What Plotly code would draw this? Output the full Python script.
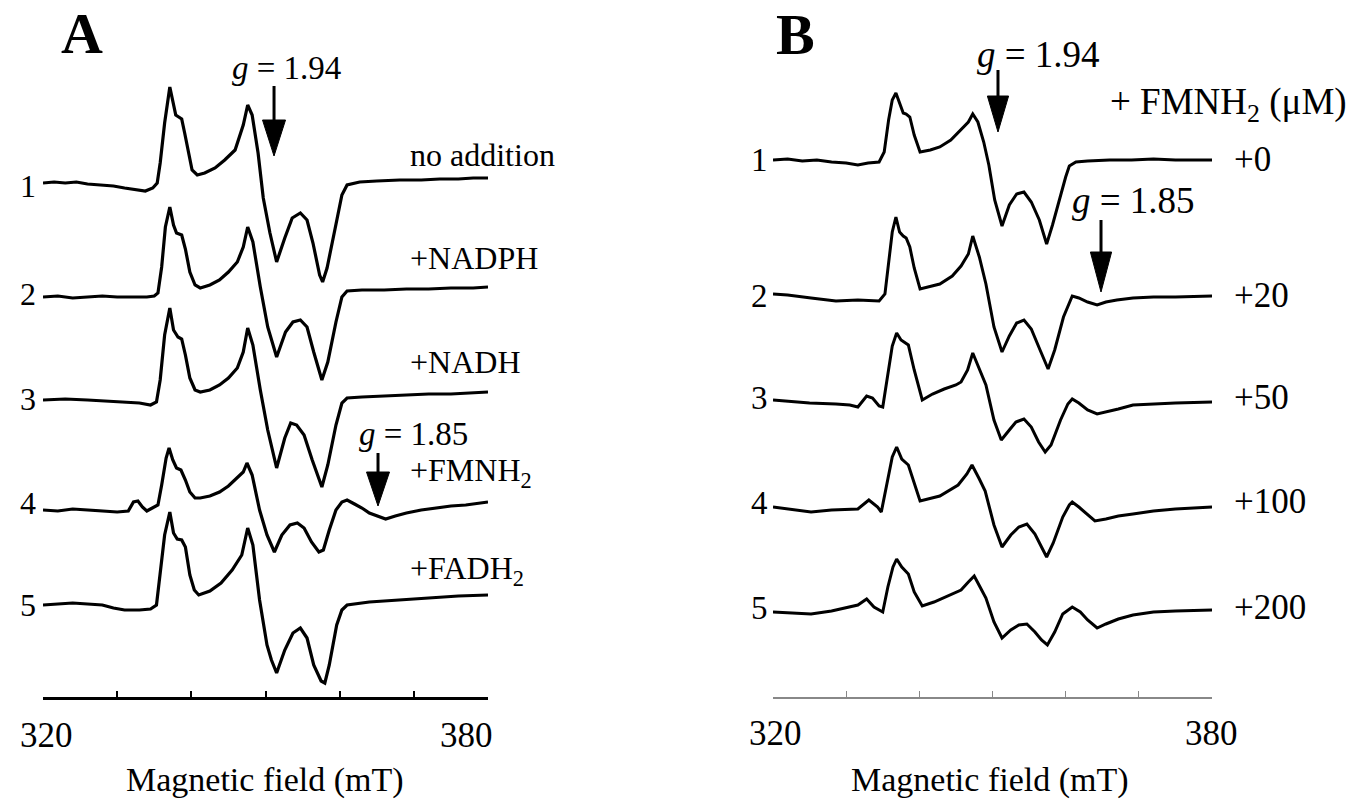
import plotly.graph_objects as go

# ---------------- data (field in mT, signal in arbitrary units) ----------------
A1_FIELD = [320.0,321.5,323.0,324.5,326.0,327.7,329.5,331.0,332.5,333.8,334.8,335.4,335.8,336.4,337.1,337.5,337.9,338.3,338.7,339.1,339.5,340.1,340.8,341.8,343.2,344.5,345.9,347.0,347.6,348.2,349.0,349.7,350.6,351.5,352.6,353.6,354.7,355.6,356.4,357.3,357.7,358.3,359.4,360.3,361.0,362.7,365.0,368.1,371.0,373.5,376.0,378.0,380.0]
A1_SIG = [0,1,0,1,-1,-2,-3,-5,-7,-8,-5,0,20,60,96,80,68,66,64,50,35,13,8,10,15,23,33,58,78,68,30,-15,-50,-79,-55,-35,-30,-37,-60,-92,-99,-85,-45,-12,-2,1,2,3,3,4,4,5,5]

A2_FIELD = [320,322,324,326,328,330,332,334,335.0,335.5,336.0,336.5,337.1,337.6,338.0,338.7,339.2,339.8,340.5,341.2,342.5,343.8,345.0,346.2,347.0,347.6,348.3,349.3,350.3,351.5,352.7,353.7,354.7,355.6,356.5,357.6,358.4,359.5,360.3,361.0,363,366,369,372,375,378,380]
A2_SIG = [0,1,-1,0,1,0,0,0,1,4,30,70,90,72,64,62,48,25,12,9,12,17,25,35,50,70,55,10,-30,-60,-35,-25,-23,-30,-55,-83,-65,-25,0,6,7,7,8,8,9,9,10]

A3_FIELD = [320,323,326,329,331,333,334.5,335.3,335.8,336.4,337.1,337.6,338.2,338.7,339.2,339.8,340.5,341.2,342.5,343.8,345.0,346.2,347.0,347.6,348.3,349.3,350.3,351.5,352.6,353.4,354.2,355.2,356.3,357.6,358.4,359.5,360.3,361.0,363,366,369,372,375,378,380]
A3_SIG = [0,1,0,-1,-2,-3,-5,-2,20,65,92,70,63,61,45,22,10,8,10,15,22,32,48,72,55,10,-30,-68,-38,-23,-25,-35,-60,-87,-65,-25,-3,2,3,4,5,6,6,7,8]

A4_FIELD = [320,322,324,326,328,330,331.5,332.2,332.8,333.4,334.0,334.8,335.5,336.0,336.6,337.0,337.5,338.0,338.6,339.2,339.8,340.5,341.2,342.5,343.8,345.0,346.2,347.0,347.5,348.2,349.2,350.2,351.2,352.2,353.3,354.3,355.2,356.2,357.2,357.8,358.6,359.5,360.3,361.0,362.0,363.0,364.0,365.0,366.2,367.5,369.0,371.0,373.0,375.0,377.0,380.0]
A4_SIG = [0,-1,1,0,-1,-2,-1,8,9,3,-1,2,5,25,52,62,50,42,40,30,18,12,12,14,18,24,32,38,47,35,0,-25,-42,-25,-15,-13,-18,-32,-42,-40,-20,0,8,10,6,2,-3,-6,-9,-6,-3,0,2,4,5,8]

A5_FIELD = [320,322,324,326,328,329.5,331.0,333.0,334.5,335.3,335.8,336.4,337.1,337.6,338.1,338.7,339.2,339.8,340.4,341.0,342.5,344.0,345.5,346.8,347.6,348.3,349.2,350.2,350.8,351.5,352.6,353.7,354.7,355.6,356.5,357.5,358.0,358.6,359.6,360.3,361.0,364,368,372,376,380]
A5_SIG = [0,1,2,1,0,-3,-5,-5,-4,0,30,70,93,72,66,65,58,30,15,10,14,22,35,50,77,60,5,-40,-55,-68,-45,-28,-23,-33,-60,-76,-78,-60,-20,-5,0,3,5,7,9,10]

B1_FIELD = [320,322,324,326,328,330,331.6,333,334.5,335.2,335.8,336.3,336.8,337.3,337.8,338.2,338.7,339.3,340.1,341.5,342.8,344.3,345.7,346.7,347.3,348.0,348.8,349.5,350.3,351.3,352.3,353.3,354.3,355.3,356.4,357.4,358.2,359.2,360.0,360.5,361.4,363,366,369,372,375,378,380]
B1_SIG = [0,1,-1,0,-2,-3,-5,-3,-2,8,40,60,67,56,47,46,43,25,8,10,13,20,30,38,46,38,18,-5,-40,-66,-45,-34,-32,-42,-60,-84,-65,-38,-17,-6,-2,-1,0,0,1,0,0,0]

B2_FIELD = [320,322,325.2,328.6,331.6,334.5,335.3,335.8,336.3,336.8,337.3,337.8,338.2,338.7,339.3,340.1,342.8,344.5,345.7,346.7,347.3,348.2,349.1,350.2,351.3,352.3,353.3,354.3,355.3,356.5,357.6,358.5,359.7,360.9,361.8,363.0,364.3,365.5,367.0,369.2,372,375,380]
B2_SIG = [0,-1,-4,-7,-6,-7,0,32,62,77,62,58,56,47,26,5,10,18,28,40,58,37,10,-33,-58,-42,-29,-26,-35,-56,-75,-56,-23,-2,-4,-8,-11,-8,-6,-4,-3,-3,-2]

B3_FIELD = [320,322,325,328.6,330.5,331.6,332.8,333.6,334.5,335.0,335.6,336.3,336.9,337.5,338.5,339.3,340.4,341.8,343.4,345.0,345.7,346.6,347.3,348.2,349.1,350.2,351.2,352.3,353.2,354.3,355.3,356.3,357.2,358.0,359.3,360.3,360.9,361.8,363.0,364.3,365.5,367.2,369.2,372,375,380]
B3_SIG = [0,-1,-3,-4,-5,-7,4,2,-6,-7,20,54,67,60,55,30,0,6,11,15,18,30,47,30,15,-20,-40,-30,-22,-19,-27,-42,-52,-45,-20,-4,1,-3,-10,-14,-12,-9,-5,-4,-3,-2]

B4_FIELD = [320,322,325.2,328,331.6,333.1,334.3,334.8,335.5,336.3,336.9,337.6,338.5,339.3,340.1,342.8,345.3,346.5,347.2,348.2,349.0,350.2,351.3,352.5,353.6,354.7,355.8,356.7,357.4,358.3,359.6,360.5,360.9,361.8,363.0,364.0,365.5,367.2,369.2,372,375,380]
B4_SIG = [0,-2,-5,-3,-2,7,0,-5,20,50,60,48,42,25,6,11,22,33,42,28,16,-18,-40,-28,-20,-17,-27,-40,-50,-36,-10,2,5,0,-8,-14,-12,-9,-7,-4,-2,0]

B5_FIELD = [320,322,325.2,328,331.6,332.8,333.8,335.0,335.7,336.4,336.9,337.6,338.5,339.3,340.4,342.0,343.8,345.7,346.7,347.5,348.3,349.1,350.2,351.3,352.5,353.6,354.7,355.8,356.7,357.5,358.5,359.6,360.9,362.0,363.0,364.3,365.5,367.2,369.2,372,375,380]
B5_SIG = [0,-1,-2,1,7,13,5,0,25,45,53,45,38,20,6,10,16,22,30,36,25,14,-10,-26,-18,-13,-12,-20,-28,-33,-20,-2,5,0,-8,-16,-12,-7,-3,0,1,2]

A_LABELS = ["no addition", "+NADPH", "+NADH", "+FMNH<sub>2</sub>", "+FADH<sub>2</sub>"]
B_LABELS = ["+0", "+20", "+50", "+100", "+200"]
TRACE_NUMBERS = ["1", "2", "3", "4", "5"]
X_TICKS = [320, 330, 340, 350, 360, 370, 380]
X_TICK_TEXT = ["320", "380"]

# g-value markers (field position of arrows, mT)
G194_A, G185_A = 351.15, 365.17
G194_B, G185_B = 350.75, 364.83

# ---------------- layout helpers (pixels) ----------------
W, H = 1356, 800
AX_Y = 697                    # pixel row of x axes
FONT = "Liberation Serif"

def px_x(p): return p / W
def px_y(p): return 1 - p / H
def val(p): return AX_Y - p   # pixel row -> y-axis units (1 unit = 1 px)

A_OFFSETS = [val(183), val(297), val(400), val(510), val(605)]
B_OFFSETS = [val(160), val(294), val(400), val(507), val(612)]

A_DATA = [(A1_FIELD, A1_SIG), (A2_FIELD, A2_SIG), (A3_FIELD, A3_SIG), (A4_FIELD, A4_SIG), (A5_FIELD, A5_SIG)]
B_DATA = [(B1_FIELD, B1_SIG), (B2_FIELD, B2_SIG), (B3_FIELD, B3_SIG), (B4_FIELD, B4_SIG), (B5_FIELD, B5_SIG)]

fig = go.Figure()
for (f, s), off in zip(A_DATA, A_OFFSETS):
    fig.add_trace(go.Scatter(x=f, y=[off + v for v in s], mode="lines",
                             line=dict(color="black", width=3.2), xaxis="x", yaxis="y",
                             showlegend=False, hoverinfo="skip"))
for (f, s), off in zip(B_DATA, B_OFFSETS):
    fig.add_trace(go.Scatter(x=f, y=[off + v for v in s], mode="lines",
                             line=dict(color="black", width=3.0), xaxis="x2", yaxis="y2",
                             showlegend=False, hoverinfo="skip"))

ydom = [1 - AX_Y / H, 1]
common_x = dict(range=[320, 380], showgrid=False, zeroline=False, ticks="inside",
                tickvals=X_TICKS, showticklabels=False, showline=True, fixedrange=True)
fig.update_layout(
    width=W, height=H, autosize=False,
    margin=dict(l=0, r=0, t=0, b=0),
    paper_bgcolor="white", plot_bgcolor="white",
    xaxis=dict(domain=[43 / W, 488 / W], anchor="y", linecolor="black", linewidth=3,
               tickcolor="black", tickwidth=2, ticklen=6, **common_x),
    yaxis=dict(domain=ydom, range=[0, AX_Y], visible=False, fixedrange=True),
    xaxis2=dict(domain=[773 / W, 1212 / W], anchor="y2", linecolor="#888888", linewidth=1.5,
                tickcolor="#888888", tickwidth=1.2, ticklen=6, **common_x),
    yaxis2=dict(domain=ydom, range=[0, AX_Y], visible=False, fixedrange=True),
)

annotations = []
def text(t, x, y, size=32, xanchor="center", bold=False):
    if bold:
        t = "<b>" + t + "</b>"
    annotations.append(dict(text=t, x=px_x(x), y=px_y(y), xref="paper", yref="paper",
                            xanchor=xanchor, yanchor="middle", showarrow=False,
                            font=dict(family=FONT, size=size, color="black")))

# panel letters
text("A", 82, 33, size=58, bold=True)
text("B", 796, 35, size=58, bold=True)

# panel A labels
for lab, yc in zip(A_LABELS, [155, 258, 362, 472, 570]):
    text(lab, 408, yc, size=32, xanchor="left")
for n, yc in zip(TRACE_NUMBERS, [186, 294, 399, 503, 605]):
    text(n, 28, yc, size=32)
text("<i>g</i> = 1.94", 286, 68, size=33)
text("<i>g</i> = 1.85", 414, 434, size=33)

# panel B labels
for lab, yc in zip(B_LABELS, [159, 295, 397, 501, 607]):
    text(lab, 1232, yc, size=35, xanchor="left")
for n, yc in zip(TRACE_NUMBERS, [160, 296, 398, 503, 608]):
    text(n, 759, yc, size=33)
text("+ FMNH<sub>2</sub> (μM)", 1108, 105, size=37, xanchor="left")
text("<i>g</i> = 1.94", 1038, 55, size=37)
text("<i>g</i> = 1.85", 1133, 200, size=37)

# tick labels and axis titles
for lab, x in zip(X_TICK_TEXT, [46, 466]):
    text(lab, x, 735, size=35)
for lab, x in zip(X_TICK_TEXT, [775, 1211]):
    text(lab, x, 733, size=35)
text("Magnetic field (mT)", 265, 780, size=34)
text("Magnetic field (mT)", 990, 780, size=34)

fig.update_layout(annotations=annotations)

# g-value arrows: (field, axis-suffix, top px, head-base px, tip px, half-width mT)
ARROWS = [(G194_A, "", 86, 120, 156, 1.55), (G185_A, "", 453, 472, 506, 1.55),
          (G194_B, "2", 70, 96, 132, 1.45), (G185_B, "2", 220, 252, 292, 1.45)]
shapes = []
for gx, sfx, top, base, tip, hw in ARROWS:
    shapes.append(dict(type="line", xref="x" + sfx, yref="y" + sfx, x0=gx, x1=gx,
                       y0=val(top), y1=val(base), line=dict(color="black", width=3)))
    shapes.append(dict(type="path", xref="x" + sfx, yref="y" + sfx,
                       path=f"M {gx - hw} {val(base)} L {gx + hw} {val(base)} L {gx} {val(tip)} Z",
                       fillcolor="black", line=dict(color="black", width=1)))
fig.update_layout(shapes=shapes)

fig.write_html("out.html")
